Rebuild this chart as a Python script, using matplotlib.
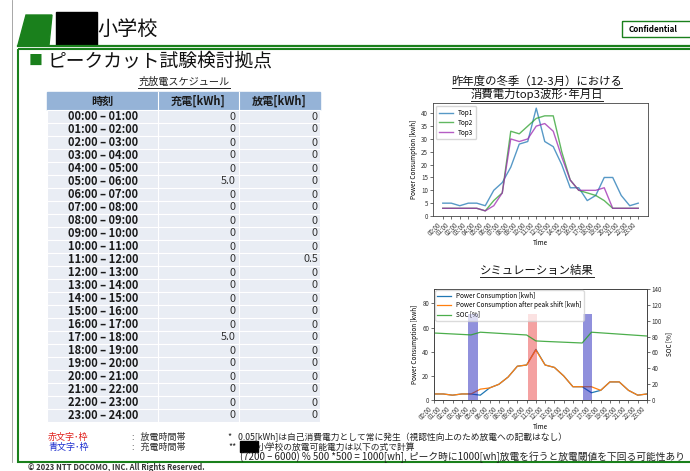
import matplotlib
matplotlib.use('Agg')
import matplotlib.pyplot as plt
from matplotlib.patches import Rectangle, Polygon

plt.rcParams['font.family'] = ['Noto Sans CJK JP', 'DejaVu Sans']

W, H = 690, 471

# 充放電スケジュール
hours = [f'{h:02d}:00' for h in range(24)]
slots = [f'{h:02d}:00 – {h + 1:02d}:00' for h in range(24)]
charge_kwh = [0, 0, 0, 0, 0, 5.0, 0, 0, 0, 0, 0, 0,
              0, 0, 0, 0, 0, 5.0, 0, 0, 0, 0, 0, 0]
discharge_kwh = [0, 0, 0, 0, 0, 0, 0, 0, 0, 0, 0, 0.5,
                 0, 0, 0, 0, 0, 0, 0, 0, 0, 0, 0, 0]

# 冬季の消費電力 top3 [kwh]
top1 = [5, 5, 4, 5, 5, 4, 10, 13, 19, 28, 29, 42, 29, 27, 20, 11, 11, 6, 8, 15, 15, 8, 4, 5]
top2 = [3, 3, 3, 3, 3, 2, 6, 9, 33, 32, 35, 38, 39, 39, 25, 14, 10, 9, 8, 6, 3, 3, 3, 3]
top3 = [3, 3, 3, 3, 3, 2, 4, 9, 30, 29, 30, 35, 36, 33, 23, 14, 10, 10, 10, 11, 3, 3, 3, 3]

# シミュレーション結果
after_shift = [5, 5, 4, 5, 5, 9, 10, 13, 19, 28, 29, 41.5, 29, 27, 20, 11, 11, 11, 8, 15, 15, 8, 4, 5]
soc = [84.5, 83.9, 83.3, 82.7, 82.1, 85.5, 84.8, 84.1, 83.4, 82.7, 82.0, 74.5,
       73.9, 73.4, 72.9, 72.4, 71.9, 85.5, 84.7, 83.9, 83.1, 82.3, 81.5, 80.7]
charge_spans = [(3.7, 4.7), (16.1, 17.05)]
discharge_spans = [(10.1, 11.1)]

GREEN = '#1a801c'

fig = plt.figure(figsize=(W / 100, H / 100), dpi=100)
bg = fig.add_axes([0, 0, 1, 1])
bg.set_xlim(0, W)
bg.set_ylim(H, 0)
bg.axis('off')


def px_axes(x0, y0, x1, y1):
    return fig.add_axes([x0 / W, 1 - y1 / H, (x1 - x0) / W, (y1 - y0) / H])


def underlined(x, y, s, **kw):
    t = bg.text(x, y, s, ha='center', va='center', **kw)
    bb = t.get_window_extent(renderer=fig.canvas.get_renderer())
    bg.plot([bb.x0, bb.x1], [H - bb.y0 + 1.2] * 2, color='#222222', lw=0.7)


# スライドの枠・見出し
bg.plot([12, 12], [0, 462], color='#999999', lw=0.6)
bg.add_patch(Polygon([(26, 15), (52, 15), (49, 45), (18, 45)], color=GREEN))
bg.add_patch(Rectangle((56, 12), 41, 33, color='black'))
bg.text(97, 29, '小学校', fontsize=14.5, va='center', ha='left', color='#111111')
bg.plot([18, W], [45.5, 45.5], color=GREEN, lw=1.6)
bg.add_patch(Rectangle((18, 48.5), 700, 413.5, fill=False, ec=GREEN, lw=1.5))
bg.add_patch(Rectangle((622, 21), 80, 16, fill=False, ec=GREEN, lw=1.0))
bg.text(629, 29.5, 'Confidential', fontsize=5.8, weight='bold', va='center', ha='left')
bg.text(29, 61, '■', fontsize=10, color=GREEN, va='center', ha='left')
bg.text(48, 61, 'ピークカット試験検討拠点', fontsize=13.5, va='center', ha='left', color='#111111')

# 表
underlined(184, 82, '充放電スケジュール', fontsize=7.3, color='#222222')
cols = [47, 158, 239, 320]
row_h = 13
top_y = 110
bg.add_patch(Rectangle((cols[0], 92), cols[-1] - cols[0], 18, color='#95b3d7'))
for x in cols[1:-1]:
    bg.plot([x, x], [92, 110], color='white', lw=0.8)
bg.text(102.5, 101, '時刻', fontsize=8, weight='bold', ha='center', va='center', color='#1a1a1a')
bg.text(198.5, 101, '充電[kWh]', fontsize=8, weight='bold', ha='center', va='center', color='#1a1a1a')
bg.text(279.5, 101, '放電[kWh]', fontsize=8, weight='bold', ha='center', va='center', color='#1a1a1a')


def fmt(v):
    return '0' if v == 0 else f'{v:.1f}'


for i, (slot, c, d) in enumerate(zip(slots, charge_kwh, discharge_kwh)):
    y = top_y + i * row_h
    bg.add_patch(Rectangle((cols[0], y), cols[-1] - cols[0], row_h, fc='#e9edf4', ec='white', lw=0.8))
    for x in cols[1:-1]:
        bg.plot([x, x], [y, y + row_h], color='white', lw=0.8)
    yc = y + row_h / 2
    bg.text(103, yc, slot, fontsize=8, weight='bold', ha='center', va='center', color='#1a1a1a')
    bg.text(cols[2] - 3, yc, fmt(c), fontsize=7.8, ha='right', va='center', color='#333333')
    bg.text(cols[3] - 2, yc, fmt(d), fontsize=7.8, ha='right', va='center', color='#333333')

# 注記
bg.text(48, 437, '赤文字･枠', fontsize=6.5, color='#e0201c', va='center')
bg.text(48, 447, '青文字･枠', fontsize=6.5, color='#1f2fcf', va='center')
bg.text(132, 437, ':   放電時間帯', fontsize=6.5, color='#333333', va='center')
bg.text(132, 447, ':   充電時間帯', fontsize=6.5, color='#333333', va='center')
bg.text(228, 437, '*   0.05[kWh]は自己消費電力として常に発生（視認性向上のため放電への記載はなし）',
        fontsize=6.3, color='#222222', va='center')
bg.text(228, 447, '**', fontsize=6.3, color='#222222', va='center')
bg.add_patch(Rectangle((240, 441), 18, 11, color='black'))
bg.text(258, 447, '小学校の放電可能電力は以下の式で計算', fontsize=6.3, color='#222222', va='center')
bg.text(240, 457, '(7200 – 6000) % 500 *500 = 1000[wh], ピーク時に1000[wh]放電を行うと放電閾値を下回る可能性あり',
        fontsize=7.0, color='#222222', va='center', clip_on=True)
bg.text(28, 468, '© 2023 NTT DOCOMO, INC. All Rights Reserved.', fontsize=5.5, weight='bold',
        color='#333333', va='center')

x = list(range(24))


def style_axes(ax):
    ax.tick_params(labelsize=4.5, length=2, width=0.5, pad=1.5, colors='#333333')
    for sp in ax.spines.values():
        sp.set_linewidth(0.6)
        sp.set_color('#444444')


# 上: top3 の波形
underlined(537, 81, '昨年度の冬季（12-3月）における', fontsize=8.2, color='#111111')
underlined(537, 94, '消費電力top3波形･年月日', fontsize=8.2, color='#111111')
ax = px_axes(433, 103, 648, 216)
ax.plot(x, top1, color='#1f77b4', lw=1.0, alpha=0.75, label='Top1')
ax.plot(x, top2, color='#2ca02c', lw=1.0, alpha=0.75, label='Top2')
ax.plot(x, top3, color='#9c27b0', lw=1.0, alpha=0.75, label='Top3')
ax.set_yticks(range(0, 45, 5))
ax.set_xticks(x)
ax.set_xticklabels(hours, rotation=45, ha='right')
ax.set_ylabel('Power Consumption [kwh]', fontsize=4.6, labelpad=2)
ax.set_xlabel('Time', fontsize=4.6, labelpad=1)
ax.legend(loc='upper left', fontsize=4.6, handlelength=2.2, borderpad=0.4, labelspacing=0.3)
style_axes(ax)

# 下: シミュレーション結果
underlined(537, 270, 'シミュレーション結果', fontsize=8.2, color='#111111')
ax1 = px_axes(434, 289, 647, 400)
ax2 = ax1.twinx()
l1, = ax1.plot(x, top1, color='#1f77b4', lw=0.9, label='Power Consumption [kwh]')
l2, = ax1.plot(x, after_shift, color='#ff7f0e', lw=0.9, label='Power Consumption after peak shift [kwh]')
l3, = ax2.plot(x, soc, color='#2ca02c', lw=0.9, alpha=0.85, label='SOC [%]')
for a, b in charge_spans:
    ax2.axvspan(a, b, ymax=108 / 140, color='#2222bb', alpha=0.5, lw=0)
for a, b in discharge_spans:
    ax2.axvspan(a, b, ymax=108 / 140, color='#e83030', alpha=0.45, lw=0)
ax1.set_xlim(0, 23)
ax1.set_ylim(0, 92)
ax2.set_ylim(0, 140)
ax1.set_yticks(range(0, 81, 20))
ax2.set_yticks(range(0, 141, 20))
ax1.set_xticks(x)
ax1.set_xticklabels(hours, rotation=45, ha='right')
ax1.set_ylabel('Power Consumption [kwh]', fontsize=4.6, labelpad=2)
ax2.set_ylabel('SOC [%]', fontsize=4.6, labelpad=2)
ax1.set_xlabel('Time', fontsize=4.6, labelpad=1)
ax2.legend([l1, l2, l3], [l.get_label() for l in (l1, l2, l3)], loc='upper left', fontsize=4.6,
           handlelength=2.2, borderpad=0.3, labelspacing=0.2, borderaxespad=0.2, framealpha=0.7)
style_axes(ax1)
style_axes(ax2)

fig.savefig('out.png', dpi=100)
